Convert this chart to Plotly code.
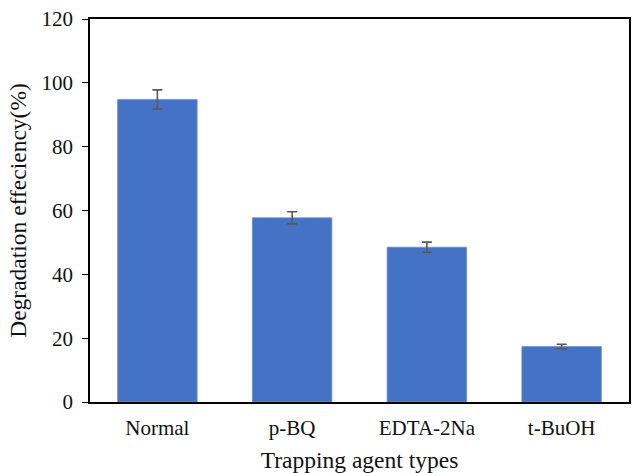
import plotly.graph_objects as go

categories = ["Normal", "p-BQ", "EDTA-2Na", "t-BuOH"]
values = [94.8, 57.7, 48.5, 17.4]
errors = [3.0, 1.9, 1.6, 0.7]
y_ticks = [0, 20, 40, 60, 80, 100, 120]

FONT = "Liberation Serif, Times New Roman, serif"

fig = go.Figure(go.Bar(
    x=categories, y=values,
    marker=dict(color="#4472C4", line=dict(color="#6f8fd0", width=0.8)),
    error_y=dict(type="data", array=errors, visible=True,
                 color="#595959", thickness=1.6, width=5),
))

fig.update_layout(
    width=632, height=473,
    margin=dict(l=90, r=1, t=19, b=71),
    paper_bgcolor="white", plot_bgcolor="white",
    bargap=0.41,
    showlegend=False,
    font=dict(family=FONT, color="#111111", size=21),
    xaxis=dict(
        showline=True, linecolor="black", linewidth=1.5, mirror=True,
        ticks="", tickfont=dict(size=21, family=FONT), ticklabelstandoff=6,
        title=dict(text="Trapping agent types", font=dict(size=23.5, family=FONT), standoff=14),
    ),
    yaxis=dict(
        range=[0, 120], tickvals=y_ticks,
        showline=True, linecolor="black", linewidth=1.5, mirror=True,
        ticks="outside", ticklen=6, tickcolor="black", tickwidth=1.2,
        showgrid=False, zeroline=False,
        tickfont=dict(size=21, family=FONT), ticklabelstandoff=5,
        title=dict(text="Degradation effeciency(%)", font=dict(size=23.5, family=FONT), standoff=8),
    ),
)

fig.write_html("out.html", config={"displayModeBar": False},
               post_script="document.body.style.margin='0';document.body.style.overflow='hidden';")
